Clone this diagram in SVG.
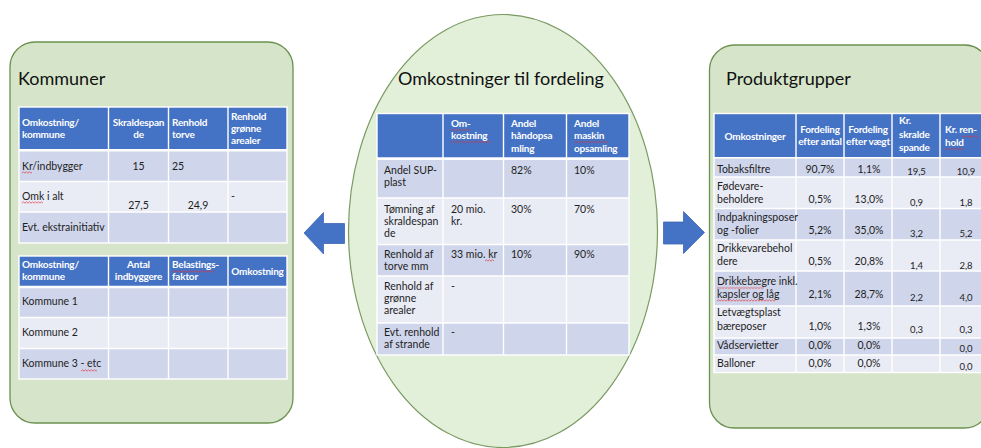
<svg xmlns="http://www.w3.org/2000/svg" width="981" height="448" viewBox="0 0 981 448">
  <defs>
    <style>
      .panel { fill: #d6e5ca; stroke: #6b9150; stroke-width: 1.3; }
      .oval { fill: #e2efd9; stroke: #7a9a62; stroke-width: 1.2; }
      .title { font-family: Lato, "Liberation Sans", sans-serif; font-size: 18px; fill: #111; }
      .hdr { fill: #4472c4; }
      .b1 { fill: #cfd5ea; }
      .b2 { fill: #e9ebf5; }
      .grid { stroke: #fff; stroke-width: 1.4; fill: none; }
      .thick { stroke: #fff; stroke-width: 2.6; }
      .th { font-family: Lato, "Liberation Sans", sans-serif; font-size: 10px; letter-spacing: -0.2px; font-weight: bold; fill: #fff; }
      .td { font-family: Lato, "Liberation Sans", sans-serif; font-size: 10.5px; fill: #1e1e1e; }
      .sm { font-size: 9.5px; }
      .m { text-anchor: middle; }
      .arrow { fill: #4472c4; stroke: #3d67b3; stroke-width: 0.8; }
    </style>
    <!-- red wavy underline used for spell-check marks -->
    <pattern id="wavy" width="3" height="3" patternUnits="userSpaceOnUse">
      <path d="M0 2.2 L1.5 0.8 L3 2.2" fill="none" stroke="#e0303a" stroke-width="0.7"/>
    </pattern>
    <rect id="sq" width="300" height="3" fill="url(#wavy)"/>
  </defs>

  <!-- Kommuner panel -->
  <g id="kommuner">
    <rect class="panel" x="10" y="42" width="283" height="381" rx="25"/>
    <text class="title" x="18" y="85">Kommuner</text>

    <!-- upper table -->
    <g id="kommuner-tabel-1">
      <rect class="hdr" x="19" y="107" width="268" height="43"/>
      <rect class="b1" x="19" y="151" width="268" height="30.5"/>
      <rect class="b2" x="19" y="181.5" width="268" height="30.5"/>
      <rect class="b1" x="19" y="212" width="268" height="31"/>
      <rect class="grid" x="19" y="107" width="268" height="136"/>
      <path class="grid" d="M108.5 107V243M168.5 107V243M228 107V243M19 181.5H287M19 212H287"/>
      <path class="thick" d="M19 150.3H287"/>
      <text class="th" x="22" y="126">Omkostning/</text>
      <text class="th" x="22" y="138">kommune</text>
      <text class="th m" x="138.5" y="126">Skraldespan</text>
      <text class="th m" x="138.5" y="138">de</text>
      <text class="th" x="172" y="126">Renhold</text>
      <text class="th" x="172" y="138">torve</text>
      <text class="th" x="231" y="119.5">Renhold</text>
      <text class="th" x="231" y="131.5">grønne</text>
      <text class="th" x="231" y="143.5">arealer</text>
      <text class="td" x="22" y="169.5">Kr/indbygger</text>
      <text class="td m" x="138.5" y="169.5">15</text>
      <text class="td" x="172" y="169.5">25</text>
      <text class="td" x="22" y="199.5">Omk i alt</text>
      <text class="td m" x="138.5" y="208.5">27,5</text>
      <text class="td m" x="198" y="208.5">24,9</text>
      <text class="td" x="231" y="199.5">-</text>
      <text class="td" x="22" y="231">Evt. ekstrainitiativ</text>
      <svg x="22" y="171" width="10" height="3"><use href="#sq"/></svg>
      <svg x="22" y="201" width="21" height="3"><use href="#sq"/></svg>
    </g>

    <!-- lower table -->
    <g id="kommuner-tabel-2">
      <rect class="hdr" x="19" y="256" width="268" height="31"/>
      <rect class="b1" x="19" y="287.5" width="268" height="30"/>
      <rect class="b2" x="19" y="317.5" width="268" height="31"/>
      <rect class="b1" x="19" y="348.5" width="268" height="30.5"/>
      <rect class="grid" x="19" y="256" width="268" height="123"/>
      <path class="grid" d="M108.5 256V379M168.5 256V379M228 256V379M19 317.5H287M19 348.5H287"/>
      <path class="thick" d="M19 287H287"/>
      <text class="th" x="22" y="268">Omkostning/</text>
      <text class="th" x="22" y="280">kommune</text>
      <text class="th m" x="138.5" y="268">Antal</text>
      <text class="th m" x="138.5" y="280">indbyggere</text>
      <text class="th" x="172" y="268">Belastings-</text>
      <text class="th" x="172" y="280">faktor</text>
      <text class="th m" x="257.5" y="274.5">Omkostning</text>
      <text class="td" x="22" y="305">Kommune 1</text>
      <text class="td" x="22" y="336">Kommune 2</text>
      <text class="td" x="22" y="367">Kommune 3 - etc</text>
      <svg x="172" y="270" width="42" height="3"><use href="#sq"/></svg>
      <svg x="81" y="369" width="16" height="3"><use href="#sq"/></svg>
    </g>
  </g>

  <!-- Omkostninger til fordeling -->
  <g id="omkostninger">
    <ellipse class="oval" cx="503" cy="231" rx="154.5" ry="216.5"/>
    <text class="title m" x="501" y="85">Omkostninger til fordeling</text>
    <rect class="hdr" x="377" y="113.5" width="252" height="45"/>
    <rect class="b1" x="377" y="159.5" width="252" height="38.5"/>
    <rect class="b2" x="377" y="198" width="252" height="46.5"/>
    <rect class="b1" x="377" y="244.5" width="252" height="31.5"/>
    <rect class="b2" x="377" y="276" width="252" height="47"/>
    <rect class="b1" x="377" y="323" width="252" height="32"/>
    <rect class="grid" x="377" y="113.5" width="252" height="241.5"/>
    <path class="grid" d="M443 113.5V355M503.5 113.5V355M566.5 113.5V355M377 198H629M377 244.5H629M377 276H629M377 323H629"/>
    <path class="thick" d="M377 158.6H629"/>
    <text class="th" x="451" y="127">Om-</text>
    <text class="th" x="451" y="139">kostning</text>
    <text class="th" x="511" y="127">Andel</text>
    <text class="th" x="511" y="139">håndopsa</text>
    <text class="th" x="511" y="151.5">mling</text>
    <text class="th" x="574" y="127">Andel</text>
    <text class="th" x="574" y="139">maskin</text>
    <text class="th" x="574" y="151.5">opsamling</text>
    <svg x="451" y="128.5" width="19" height="3"><use href="#sq"/></svg>
    <svg x="451" y="140.5" width="40" height="3"><use href="#sq"/></svg>
    <svg x="574" y="140.5" width="34" height="3"><use href="#sq"/></svg>
    <text class="td" x="384" y="173.5">Andel SUP-</text>
    <text class="td" x="384" y="185.5">plast</text>
    <text class="td" x="511" y="173.5">82%</text>
    <text class="td" x="574" y="173.5">10%</text>
    <text class="td" x="384" y="213">Tømning af</text>
    <text class="td" x="384" y="225">skraldespan</text>
    <text class="td" x="384" y="237">de</text>
    <text class="td" x="451" y="213">20 mio.</text>
    <text class="td" x="451" y="225">kr.</text>
    <text class="td" x="511" y="213">30%</text>
    <text class="td" x="574" y="213">70%</text>
    <text class="td" x="384" y="257.5">Renhold af</text>
    <text class="td" x="384" y="269.5">torve mm</text>
    <text class="td" x="451" y="257.5">33 mio. kr</text>
    <svg x="485" y="259" width="9" height="3"><use href="#sq"/></svg>
    <text class="td" x="511" y="257.5">10%</text>
    <text class="td" x="574" y="257.5">90%</text>
    <text class="td" x="384" y="289.5">Renhold af</text>
    <text class="td" x="384" y="301.5">grønne</text>
    <text class="td" x="384" y="313.5">arealer</text>
    <text class="td" x="451" y="289.5">-</text>
    <text class="td" x="384" y="336">Evt. renhold</text>
    <text class="td" x="384" y="348">af strande</text>
    <text class="td" x="451" y="336">-</text>
  </g>

  <!-- Produktgrupper panel -->
  <g id="produktgrupper">
    <rect class="panel" x="709.5" y="45" width="280" height="383" rx="25"/>
    <text class="title" x="726" y="85">Produktgrupper</text>
    <rect class="hdr" x="714" y="113.5" width="280" height="44"/>
    <rect class="b1" x="714" y="158.5" width="280" height="18.5"/>
    <rect class="b2" x="714" y="177" width="280" height="31.5"/>
    <rect class="b1" x="714" y="208.5" width="280" height="31.5"/>
    <rect class="b2" x="714" y="240" width="280" height="31"/>
    <rect class="b1" x="714" y="271" width="280" height="35"/>
    <rect class="b2" x="714" y="306" width="280" height="32"/>
    <rect class="b1" x="714" y="338" width="280" height="17"/>
    <rect class="b2" x="714" y="355" width="280" height="17.5"/>
    <rect class="grid" x="714" y="113.5" width="280" height="259"/>
    <path class="grid" d="M796 113.5V372.5M844 113.5V372.5M892 113.5V372.5M940 113.5V372.5M714 177H994M714 208.5H994M714 240H994M714 271H994M714 306H994M714 338H994M714 355H994"/>
    <path class="grid" d="M714 157.8H994"/>
    <text class="th m" x="755" y="139.5">Omkostninger</text>
    <text class="th m" x="820" y="133">Fordeling</text>
    <text class="th m" x="820" y="145">efter antal</text>
    <text class="th m" x="868" y="133">Fordeling</text>
    <text class="th m" x="868" y="145">efter vægt</text>
    <text class="th" x="899" y="124">Kr.</text>
    <text class="th" x="899" y="137.5">skralde</text>
    <text class="th" x="899" y="150.5">spande</text>
    <text class="th" x="945" y="133">Kr. ren-</text>
    <text class="th" x="945" y="145.5">hold</text>
    <svg x="962" y="135" width="16" height="3"><use href="#sq"/></svg>
    <svg x="945" y="147.5" width="19" height="3"><use href="#sq"/></svg>

    <text class="td" x="717" y="172.5">Tobaksfiltre</text>
    <text class="td m" x="820" y="172.5">90,7%</text>
    <text class="td m" x="869" y="172.5">1,1%</text>
    <text class="td sm m" x="916.5" y="175">19,5</text>
    <text class="td sm m" x="966" y="175">10,9</text>

    <text class="td" x="717" y="190">Fødevare-</text>
    <text class="td" x="717" y="202.5">beholdere</text>
    <text class="td m" x="820" y="202.5">0,5%</text>
    <text class="td m" x="869" y="202.5">13,0%</text>
    <text class="td sm m" x="916.5" y="205.5">0,9</text>
    <text class="td sm m" x="966" y="205.5">1,8</text>

    <text class="td" x="717" y="220.5">Indpakningsposer</text>
    <text class="td" x="717" y="233.5">og -folier</text>
    <text class="td m" x="820" y="233.5">5,2%</text>
    <text class="td m" x="869" y="233.5">35,0%</text>
    <text class="td sm m" x="916.5" y="236.5">3,2</text>
    <text class="td sm m" x="966" y="236.5">5,2</text>

    <text class="td" x="717" y="252">Drikkevarebehol</text>
    <text class="td" x="717" y="265">dere</text>
    <text class="td m" x="820" y="265">0,5%</text>
    <text class="td m" x="869" y="265">20,8%</text>
    <text class="td sm m" x="916.5" y="268.5">1,4</text>
    <text class="td sm m" x="966" y="268.5">2,8</text>

    <text class="td" x="717" y="285">Drikkebægre inkl.</text>
    <text class="td" x="717" y="297.5">kapsler og låg</text>
    <svg x="717" y="286.5" width="47" height="3"><use href="#sq"/></svg>
    <svg x="717" y="299" width="59" height="3"><use href="#sq"/></svg>
    <text class="td m" x="820" y="297.5">2,1%</text>
    <text class="td m" x="869" y="297.5">28,7%</text>
    <text class="td sm m" x="916.5" y="300.5">2,2</text>
    <text class="td sm m" x="966" y="300.5">4,0</text>

    <text class="td" x="717" y="316">Letvægtsplast</text>
    <text class="td" x="717" y="330">bæreposer</text>
    <text class="td m" x="820" y="330">1,0%</text>
    <text class="td m" x="869" y="330">1,3%</text>
    <text class="td sm m" x="916.5" y="333">0,3</text>
    <text class="td sm m" x="966" y="333">0,3</text>

    <text class="td" x="717" y="348.5">Vådservietter</text>
    <text class="td m" x="820" y="348.5">0,0%</text>
    <text class="td m" x="869" y="348.5">0,0%</text>
    <text class="td sm m" x="966" y="352">0,0</text>

    <text class="td" x="717" y="366.5">Balloner</text>
    <text class="td m" x="820" y="366.5">0,0%</text>
    <text class="td m" x="869" y="366.5">0,0%</text>
    <text class="td sm m" x="966" y="370">0,0</text>
  </g>

  <!-- block arrows between the panels -->
  <g id="connectors">
    <polygon class="arrow" points="304,233 323.5,212.5 323.5,223.5 344.5,223.5 344.5,243.5 323.5,243.5 323.5,254"/>
    <polygon class="arrow" points="663.5,222 683.5,222 683.5,211.5 704.5,232.5 683.5,253.5 683.5,244 663.5,244"/>
  </g>
</svg>
